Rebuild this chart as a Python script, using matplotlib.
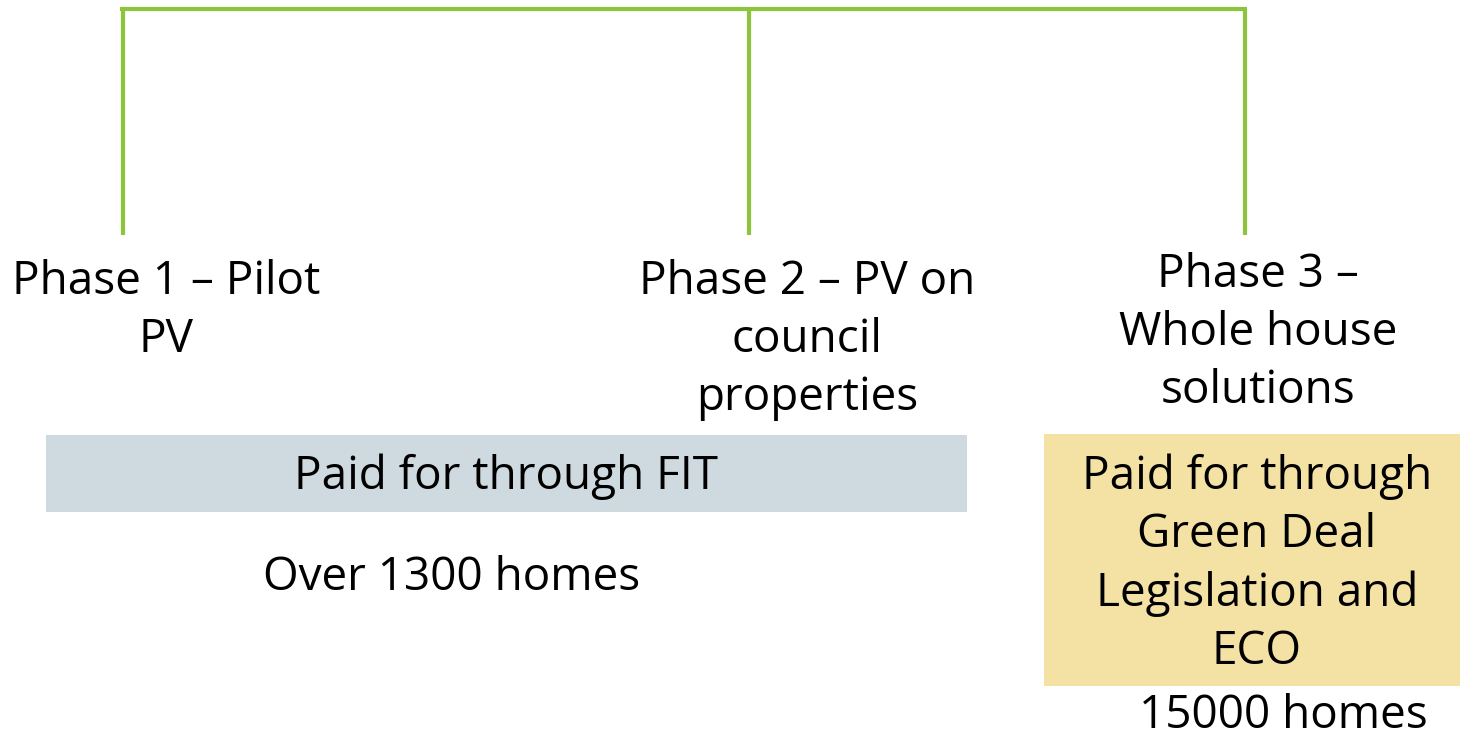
import matplotlib
matplotlib.use("Agg")
import matplotlib.pyplot as plt
from matplotlib.patches import Rectangle

# Content
phase_labels = ["Phase 1 – Pilot\nPV", "Phase 2 – PV on\ncouncil\nproperties", "Phase 3 –\nWhole house\nsolutions"]
funding_labels = ["Paid for through FIT", "Paid for through\nGreen Deal\nLegislation and\nECO"]
home_labels = ["Over 1300 homes", "15000 homes"]

# Layout (pixel coordinates)
W, H = 1460, 743
branch_x = [123, 749, 1245]
top_y, branch_bottom = 9, 235
phase_pos = [(166, 311), (807, 340), (1258, 333)]
boxes = [(46, 435, 921, 77, "#CFDAE0"), (1044, 434, 416, 252, "#F4E1A4")]
fund_pos = [(506, 477), (1257, 564)]
home_pos = [(452, 578), (1283, 716)]
green = "#8CC43C"

plt.rcParams['font.family'] = ['Open Sans', 'DejaVu Sans']
fig = plt.figure(figsize=(W / 100, H / 100), dpi=100)
ax = fig.add_axes([0, 0, 1, 1])
ax.set_xlim(0, W)
ax.set_ylim(H, 0)
ax.axis('off')

fs = 33
ls = 1.35

ax.plot([branch_x[0] - 3, branch_x[-1] + 2], [top_y, top_y], color=green, lw=3, solid_capstyle='butt')
for x in branch_x:
    ax.plot([x, x], [top_y, branch_bottom], color=green, lw=3, solid_capstyle='butt')

for (x, y), lab in zip(phase_pos, phase_labels):
    ax.text(x, y, lab, ha='center', va='center', fontsize=fs, linespacing=ls, color='black')

for (x, y, w, h, c) in boxes:
    ax.add_patch(Rectangle((x, y), w, h, facecolor=c, edgecolor='none'))

for (x, y), lab in zip(fund_pos, funding_labels):
    ax.text(x, y, lab, ha='center', va='center', fontsize=fs, linespacing=ls, color='black')

for (x, y), lab in zip(home_pos, home_labels):
    ax.text(x, y, lab, ha='center', va='center', fontsize=fs, color='black')

fig.savefig("out.png", dpi=100)
